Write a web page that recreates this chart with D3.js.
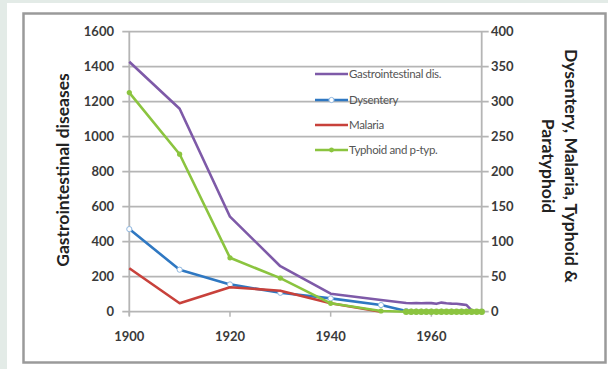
<!DOCTYPE html>
<html><head><meta charset="utf-8">
<script src="https://cdn.jsdelivr.net/npm/d3@7"></script>
<style>
html,body{margin:0;padding:0;background:#e3ebe7;}
svg{display:block;}
text{font-family:Lato,"Open Sans",sans-serif;}
</style></head>
<body>
<svg id="c" width="608" height="369"></svg>
<script>
// ---- data ----
const gastroYears = [1900,1910,1920,1930,1940,1950,1955,1956,1957,1958,1959,1960,1961,1962,1963,1964,1965,1966,1967,1968];
const gastroValues = [1428,1160,543,260,103,67,50,48,49,48,50,49,45,52,48,46,45,42,38,8];
const dysYears = [1900,1910,1920,1930,1940,1950,1955,1956,1957,1958,1959,1960,1962,1964,1966,1968,1970];
const dysValues = [118,60,39,27,19,9.5,1,0,0,0,0,0,0,0,0,0,0];
const malYears = [1900,1910,1920,1930,1940,1950];
const malValues = [62,12,35,30,12,0];
const typYears = [1900,1910,1920,1930,1940,1950,1955,1956,1957,1958,1959,1960,1961,1962,1963,1964,1965,1966,1967,1968,1969,1970];
const typValues = [313,225,77,48,12,1,0,0,0,0,0,0,0,0,0,0,0,0,0,0,0,0];
const leftTicks = [0,200,400,600,800,1000,1200,1400,1600];
const rightTicks = [0,50,100,150,200,250,300,350,400];
const xTicks = [1900,1920,1940,1960];
const seriesNames = ["Gastrointestinal dis.","Dysentery","Malaria","Typhoid and p-typ."];
const seriesColors = ["#7e5aa8","#2f78c2","#c8413b","#8bc43f"];

// ---- layout ----
const svg = d3.select("#c");
svg.append("rect").attr("x",7).attr("y",3).attr("width",601).attr("height",366).attr("fill","#fff");
svg.append("rect").attr("x",23.5).attr("y",13.5).attr("width",582).attr("height",349)
  .attr("fill","none").attr("stroke","#9a9a9a").attr("stroke-width",2.5);

const L=129.3, R=481.7, T=31.7, B=311.7;
const x = d3.scaleLinear().domain([1900,1970]).range([L,R]);
const yL = d3.scaleLinear().domain([0,1600]).range([B,T]);
const yR = d3.scaleLinear().domain([0,400]).range([B,T]);

const gridC="#b5b5b5";
svg.append("g").selectAll("line").data(leftTicks).join("line")
  .attr("x1",L-7).attr("x2",R+7).attr("y1",d=>yL(d)).attr("y2",d=>yL(d))
  .attr("stroke",gridC).attr("stroke-width",1.8);
svg.append("line").attr("x1",L).attr("x2",L).attr("y1",T).attr("y2",B+4).attr("stroke",gridC).attr("stroke-width",1.8);
svg.append("line").attr("x1",R).attr("x2",R).attr("y1",T).attr("y2",B).attr("stroke",gridC).attr("stroke-width",1.8);
svg.append("g").selectAll("line").data(xTicks).join("line")
  .attr("x1",d=>x(d)).attr("x2",d=>x(d)).attr("y1",B).attr("y2",B+5)
  .attr("stroke",gridC).attr("stroke-width",1.5);

const lab = {fill:"#3a3a3a", size:"13px"};
svg.append("g").selectAll("text").data(leftTicks).join("text")
  .attr("x",114).attr("y",d=>yL(d)).attr("dy","0.35em").attr("text-anchor","end")
  .attr("font-size",lab.size).attr("font-weight","bold").attr("fill",lab.fill).text(d=>d);
svg.append("g").selectAll("text").data(rightTicks).join("text")
  .attr("x",491).attr("y",d=>yR(d)).attr("dy","0.35em").attr("text-anchor","start")
  .attr("font-size",lab.size).attr("font-weight","bold").attr("fill",lab.fill).text(d=>d);
svg.append("g").selectAll("text").data(xTicks).join("text")
  .attr("x",d=>x(d)).attr("y",336).attr("dy","0.35em").attr("text-anchor","middle")
  .attr("font-size",lab.size).attr("font-weight","bold").attr("fill",lab.fill).text(d=>d);

// axis titles
svg.append("text").attr("transform","translate(69,170) rotate(-90)")
  .attr("text-anchor","middle").attr("font-size","17.5px").attr("font-weight","bold").attr("fill","#222")
  .text("Gastrointestinal diseases");
const rt = svg.append("text").attr("transform","translate(565,166) rotate(90)")
  .attr("text-anchor","middle").attr("font-size","17.5px").attr("font-weight","bold").attr("fill","#222");
rt.append("tspan").attr("x",0).attr("dy","0").text("Dysentery, Malaria, Typhoid &");
rt.append("tspan").attr("x",0).attr("dy","1.3em").text("Paratyphoid");

// series
const lineL = d3.line().x(d=>x(d[0])).y(d=>yL(d[1]));
const lineR = d3.line().x(d=>x(d[0])).y(d=>yR(d[1]));
const g = svg.append("g");
const gData = d3.zip(gastroYears,gastroValues);
const dData = d3.zip(dysYears,dysValues);
const mData = d3.zip(malYears,malValues);
const tData = d3.zip(typYears,typValues);
g.append("path").attr("d",lineL(gData)).attr("fill","none").attr("stroke",seriesColors[0]).attr("stroke-width",2.6).attr("stroke-linejoin","round");
g.append("path").attr("d",lineR(dData)).attr("fill","none").attr("stroke",seriesColors[1]).attr("stroke-width",2.6).attr("stroke-linejoin","round");
g.append("g").selectAll("circle").data(dData).join("circle")
  .attr("cx",d=>x(d[0])).attr("cy",d=>yR(d[1])).attr("r",2.6)
  .attr("fill","#fff").attr("stroke","#8fb7e0").attr("stroke-width",1);
g.append("path").attr("d",lineR(mData)).attr("fill","none").attr("stroke",seriesColors[2]).attr("stroke-width",2.6).attr("stroke-linejoin","round");
g.append("path").attr("d",lineR(tData)).attr("fill","none").attr("stroke",seriesColors[3]).attr("stroke-width",2.6).attr("stroke-linejoin","round");
g.append("g").selectAll("circle").data(tData).join("circle")
  .attr("cx",d=>x(d[0])).attr("cy",d=>yR(d[1])).attr("r",d=>d[0]>=1955?3.2:2.6)
  .attr("fill",seriesColors[3]);

// legend
const legY = [74,100,125,150];
const lg = svg.append("g");
seriesNames.forEach((n,i)=>{
  lg.append("line").attr("x1",315).attr("x2",348).attr("y1",legY[i]).attr("y2",legY[i])
    .attr("stroke",seriesColors[i]).attr("stroke-width",2.6);
  if(i===1) lg.append("circle").attr("cx",331.5).attr("cy",legY[i]).attr("r",2.6).attr("fill","#fff").attr("stroke","#8fb7e0");
  if(i===3) lg.append("circle").attr("cx",331.5).attr("cy",legY[i]).attr("r",2.4).attr("fill",seriesColors[3]);
  lg.append("text").attr("x",349).attr("y",legY[i]).attr("dy","0.35em")
    .attr("font-size","11.5px").attr("fill","#555").attr("letter-spacing","-0.35px").text(n);
});
</script>
</body></html>
